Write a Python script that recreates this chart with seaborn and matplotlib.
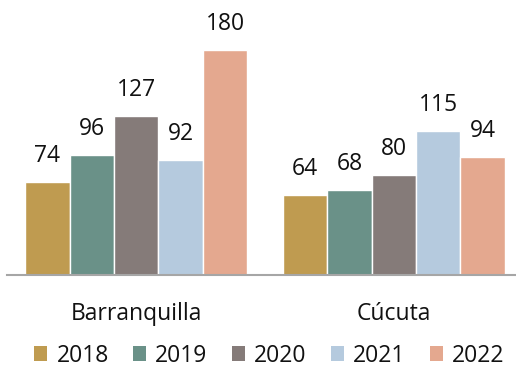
import matplotlib
matplotlib.use("Agg")
import matplotlib.pyplot as plt
import matplotlib.patches as mpatches
import seaborn as sns
import pandas as pd

cities = ["Barranquilla", "Cúcuta"]
years = ["2018", "2019", "2020", "2021", "2022"]
barranquilla = [74, 96, 127, 92, 180]
cucuta = [64, 68, 80, 115, 94]
colors = ["#BF9B50", "#6A9188", "#857B79", "#B5CADE", "#E4A88F"]

rows = []
for city, vals in zip(cities, [barranquilla, cucuta]):
    for yr, v in zip(years, vals):
        rows.append({"city": city, "year": yr, "value": v})
df = pd.DataFrame(rows)

sns.set_style("white")
plt.rcParams["font.family"] = ["Open Sans", "DejaVu Sans"]

fig = plt.figure(figsize=(5.16, 3.77), dpi=100)
ax = fig.add_axes([7 / 516, 0.2714, 1 - 7 / 516, 0.7286])

sns.barplot(data=df, x="city", y="value", hue="year", order=cities,
            hue_order=years, palette=colors, width=0.862, saturation=1,
            edgecolor="white", linewidth=1.0, errorbar=None, ax=ax)

for cont in ax.containers:
    ax.bar_label(cont, fmt="%d", padding=10, fontsize=16.5, color="#111111")

ax.set_xlim(-0.502, 1.475)
ax.set_ylim(0, 219.8)
ax.set_xlabel("")
ax.set_ylabel("")
ax.set_yticks([])
for s in ["top", "right", "left"]:
    ax.spines[s].set_visible(False)
ax.spines["bottom"].set_color("#A6A6A6")
ax.spines["bottom"].set_linewidth(1.5)
ax.tick_params(axis="x", length=0, pad=20, labelsize=16.5, labelcolor="#111111")

if ax.get_legend() is not None:
    ax.get_legend().remove()
handles = [mpatches.Patch(facecolor=c, edgecolor="none") for c in colors]
fig.legend(handles, years, loc="center", bbox_to_anchor=(0.522, 0.057),
           ncol=5, frameon=False, fontsize=16.5, handlelength=0.58,
           handleheight=0.58, handletextpad=0.4, columnspacing=1.05,
           labelcolor="#111111")

fig.savefig("out.png", dpi=100)
